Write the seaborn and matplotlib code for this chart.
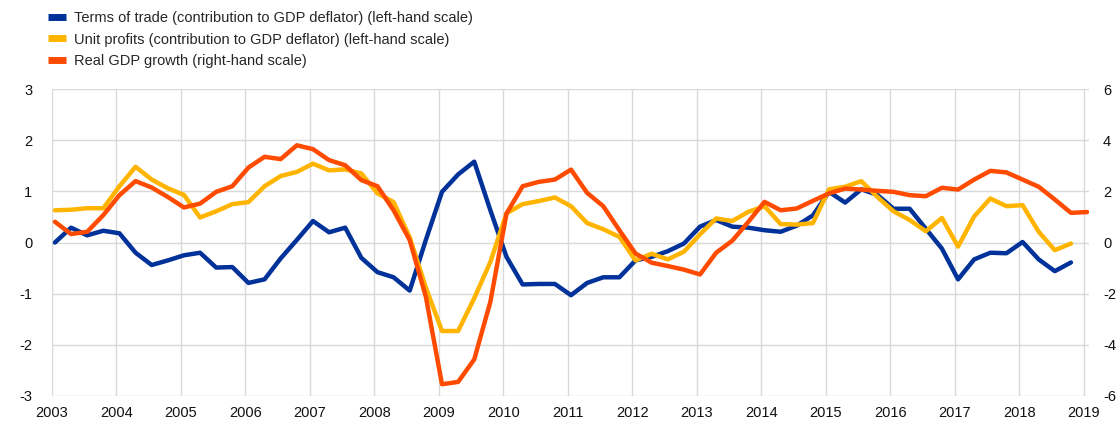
#%%
import numpy as np
import pandas as pd
import matplotlib
matplotlib.use("Agg")
import matplotlib.pyplot as plt
import seaborn as sns

# %% quarterly data, 2003Q1 onwards
terms_of_trade = [0.0, 0.29, 0.14, 0.23, 0.18, -0.2, -0.44, -0.35, -0.25, -0.2, -0.49, -0.48,
                  -0.79, -0.72, -0.31, 0.05, 0.42, 0.2, 0.29, -0.3, -0.58, -0.68, -0.94, 0.05,
                  0.99, 1.33, 1.58, 0.63, -0.28, -0.82, -0.81, -0.81, -1.03, -0.79, -0.68, -0.68,
                  -0.35, -0.28, -0.17, -0.02, 0.31, 0.44, 0.31, 0.29, 0.24, 0.21, 0.33, 0.53,
                  0.99, 0.78, 1.04, 0.93, 0.66, 0.66, 0.27, -0.12, -0.72, -0.33, -0.2, -0.21,
                  0.01, -0.33, -0.56, -0.39]
unit_profits = [0.63, 0.64, 0.67, 0.67, 1.1, 1.48, 1.23, 1.06, 0.93, 0.49, 0.61, 0.75,
                0.79, 1.1, 1.3, 1.38, 1.54, 1.41, 1.43, 1.35, 0.96, 0.79, 0.1, -0.88,
                -1.73, -1.73, -1.09, -0.38, 0.57, 0.75, 0.81, 0.88, 0.71, 0.38, 0.26, 0.11,
                -0.35, -0.22, -0.33, -0.18, 0.16, 0.47, 0.42, 0.6, 0.71, 0.36, 0.35, 0.38,
                1.04, 1.09, 1.2, 0.89, 0.61, 0.44, 0.22, 0.48, -0.08, 0.51, 0.86, 0.71,
                0.73, 0.21, -0.15, -0.02]
gdp_growth = [0.81, 0.33, 0.42, 1.07, 1.85, 2.4, 2.15, 1.78, 1.37, 1.52, 1.98, 2.2,
              2.93, 3.35, 3.26, 3.8, 3.65, 3.22, 3.02, 2.44, 2.2, 1.26, 0.09, -2.12,
              -5.54, -5.45, -4.57, -2.32, 1.13, 2.2, 2.37, 2.46, 2.85, 1.94, 1.42, 0.48,
              -0.43, -0.79, -0.92, -1.06, -1.25, -0.4, 0.07, 0.81, 1.59, 1.26, 1.33, 1.63,
              1.92, 2.11, 2.07, 2.02, 1.98, 1.85, 1.81, 2.14, 2.07, 2.46, 2.8, 2.74,
              2.46, 2.18, 1.68, 1.16, 1.19]
years = list(range(2003, 2020))
left_ticks = [-3, -2, -1, 0, 1, 2, 3]
right_ticks = [-6, -4, -2, 0, 2, 4, 6]

labels = ["Terms of trade (contribution to GDP deflator) (left-hand scale)",
          "Unit profits (contribution to GDP deflator) (left-hand scale)",
          "Real GDP growth (right-hand scale)"]
colors = ["#003299", "#FFB400", "#FF4B00"]

# %% build frames
t_left = 2003.05 + 0.25 * np.arange(len(terms_of_trade))
t_right = 2003.05 + 0.25 * np.arange(len(gdp_growth))
df_left = pd.DataFrame({
    "t": np.concatenate([t_left, t_left]),
    "value": terms_of_trade + unit_profits,
    "series": [labels[0]] * len(t_left) + [labels[1]] * len(t_left),
})
df_right = pd.DataFrame({"t": t_right, "value": gdp_growth, "series": labels[2]})

# %% plot
sns.set_style("white")
plt.rcParams['font.family'] = ['Liberation Sans', 'DejaVu Sans']
plt.rcParams['axes.unicode_minus'] = False

fig = plt.figure(figsize=(11.19, 4.28), dpi=100)
ax = fig.add_axes([0.0462, 0.0748, 0.927, 0.7172])
ax2 = ax.twinx()

sns.lineplot(data=df_left, x="t", y="value", hue="series", palette=colors[:2],
             linewidth=3.2, ax=ax, legend=False)
sns.lineplot(data=df_right, x="t", y="value", hue="series", palette=colors[2:],
             linewidth=3.2, ax=ax2, legend=False)

ax.set_xlim(2003, 2019.08)
ax.set_ylim(-3, 3)
ax2.set_ylim(-6, 6)
ax.set_xticks(years)
ax.set_xticklabels([str(y) for y in years])
ax.set_yticks(left_ticks)
ax2.set_yticks(right_ticks)
ax.set_xlabel("")
ax.set_ylabel("")
ax2.set_ylabel("")

ax.grid(True, color="#d9d9d9", linewidth=1)
ax2.grid(False)
for a in (ax, ax2):
    for s in a.spines.values():
        s.set_visible(False)
    a.tick_params(length=0, labelsize=10.5, colors="#111111")
ax.tick_params(axis="y", pad=14)
ax2.tick_params(axis="y", pad=10)
ax.tick_params(axis="x", pad=7)

# %% legend
handles = [plt.Line2D([], [], color=c, linewidth=5, solid_capstyle="butt") for c in colors]
fig.legend(handles, labels, loc="upper left", bbox_to_anchor=(0.031, 1.005),
           frameon=False, fontsize=10.5, handlelength=1.25, handletextpad=0.55,
           labelspacing=0.52)

fig.savefig("out.png", dpi=100)
